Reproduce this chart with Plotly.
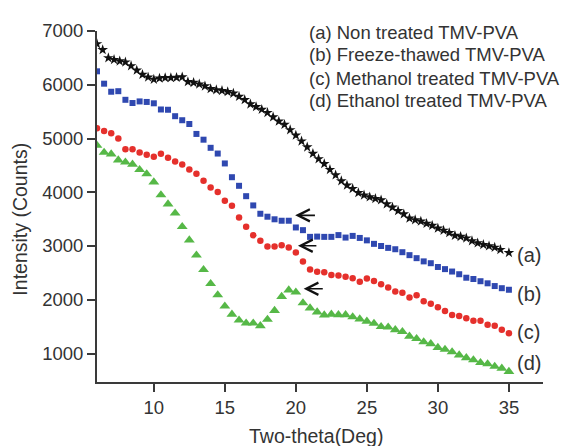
import plotly.graph_objects as go

# ---- data ----
theta_a = [6.0, 6.4, 6.8, 7.2, 7.6, 8.0, 8.4, 8.8, 9.2, 9.6, 10.0, 10.4, 10.8, 11.2, 11.6, 12.0,
           12.4, 12.8, 13.2, 13.6, 14.0, 14.4, 14.8, 15.2, 15.6, 16.0, 16.4, 16.8, 17.2, 17.6,
           18.0, 18.4, 18.8, 19.2, 19.6, 20.0, 20.4, 20.8, 21.2, 21.6, 22.0, 22.4, 22.8, 23.2,
           23.6, 24.0, 24.4, 24.8, 25.2, 25.6, 26.0, 26.4, 26.8, 27.2, 27.6, 28.0, 28.4, 28.8,
           29.2, 29.6, 30.0, 30.4, 30.8, 31.2, 31.6, 32.0, 32.4, 32.8, 33.2, 33.6, 34.0, 34.4, 35.0]
non_treated = [6760, 6650, 6500, 6466, 6440, 6420, 6350, 6270, 6190, 6140, 6100, 6120, 6130, 6130,
               6135, 6144, 6055, 6040, 6010, 5975, 5925, 5905, 5890, 5870, 5840, 5780, 5720, 5640,
               5590, 5540, 5480, 5400, 5320, 5260, 5160, 5060, 4950, 4840, 4720, 4620, 4530, 4420,
               4320, 4210, 4130, 4067, 3990, 3945, 3910, 3880, 3855, 3780, 3720, 3655, 3595, 3515,
               3485, 3460, 3417, 3380, 3330, 3290, 3245, 3195, 3175, 3145, 3095, 3055, 3025, 3000,
               2974, 2933, 2875]

theta = [6.0, 6.5, 7.0, 7.5, 8.0, 8.5, 9.0, 9.5, 10.0, 10.5, 11.0, 11.5, 12.0, 12.5, 13.0, 13.5,
         14.0, 14.5, 15.0, 15.5, 16.0, 16.5, 17.0, 17.5, 18.0, 18.5, 19.0, 19.5, 20.0, 20.5, 21.0,
         21.5, 22.0, 22.5, 23.0, 23.5, 24.0, 24.5, 25.0, 25.5, 26.0, 26.5, 27.0, 27.5, 28.0, 28.5,
         29.0, 29.5, 30.0, 30.5, 31.0, 31.5, 32.0, 32.5, 33.0, 33.5, 34.0, 34.5, 35.0]
freeze_thawed = [6250, 6020, 5870, 5880, 5720, 5660, 5690, 5680, 5655, 5540, 5535, 5415, 5340, 5270,
                 5085, 4978, 4827, 4720, 4536, 4280, 4120, 3927, 3755, 3600, 3545, 3497, 3470, 3470,
                 3345, 3295, 3170, 3175, 3170, 3170, 3203, 3157, 3188, 3150, 3105, 3040, 3000, 2965,
                 2940, 2885, 2830, 2774, 2714, 2680, 2610, 2570, 2525, 2475, 2410, 2386, 2345, 2306,
                 2255, 2215, 2186]
methanol = [5190, 5140, 5100, 5000, 4800, 4800, 4740, 4700, 4660, 4715, 4640, 4570, 4515, 4425,
            4345, 4215, 4090, 4005, 3843, 3750, 3530, 3357, 3199, 3097, 2993, 2993, 3016, 2974,
            2880, 2714, 2565, 2519, 2514, 2460, 2450, 2430, 2400, 2337, 2397, 2350, 2290, 2228,
            2155, 2130, 2040, 2082, 1970, 1924, 1860, 1790, 1718, 1700, 1655, 1608, 1610, 1536,
            1517, 1440, 1378]
ethanol = [4870, 4740, 4710, 4600, 4560, 4520, 4420, 4340, 4190, 3950, 3780, 3610, 3360, 3110,
           2830, 2560, 2300, 2090, 1880, 1730, 1620, 1565, 1565, 1515, 1635, 1800, 2060, 2180,
           2140, 1940, 1845, 1770, 1715, 1730, 1720, 1720, 1680, 1640, 1600, 1560, 1500, 1490,
           1440, 1405, 1320, 1275, 1215, 1180, 1110, 1075, 1030, 970, 920, 880, 830, 805, 760,
           725, 665]

legend_lines = ["(a) Non treated TMV-PVA", "(b) Freeze-thawed TMV-PVA",
                "(c) Methanol treated TMV-PVA", "(d) Ethanol treated TMV-PVA"]
end_labels = ["(a)", "(b)", "(c)", "(d)"]
# arrows: (tip theta, tip intensity, tail theta)
arrow_tips_x = [19.95, 20.15, 20.55]
arrow_tips_y = [3570, 3005, 2205]
arrow_tails_x = [21.45, 21.55, 22.0]

x_ticks = [10, 15, 20, 25, 30, 35]
y_ticks = [1000, 2000, 3000, 4000, 5000, 6000, 7000]

FONT = "Liberation Sans, Arial, sans-serif"
TXT = "#333333"

fig = go.Figure()
fig.add_trace(go.Scatter(x=theta_a, y=non_treated, mode="markers",
                         marker=dict(symbol="star", size=8, color="#111111", line=dict(width=0))))
fig.add_trace(go.Scatter(x=theta, y=freeze_thawed, mode="markers",
                         marker=dict(symbol="square", size=6, color="#2f48b0", line=dict(width=0))))
fig.add_trace(go.Scatter(x=theta, y=methanol, mode="markers",
                         marker=dict(symbol="circle", size=6.5, color="#e5302c", line=dict(width=0))))
fig.add_trace(go.Scatter(x=theta, y=ethanol, mode="markers",
                         marker=dict(symbol="triangle-up", size=9.5, color="#56b847", line=dict(width=0))))

annotations = []
leg_y = [0.997, 0.932, 0.866, 0.802]
for txt, yy in zip(legend_lines, leg_y):
    annotations.append(dict(text=txt, x=0.471, y=yy, xref="paper", yref="paper",
                            xanchor="left", yanchor="middle", showarrow=False,
                            font=dict(family=FONT, size=18.5, color=TXT)))
end_y = [0.363, 0.251, 0.142, 0.053]
for txt, yy in zip(end_labels, end_y):
    annotations.append(dict(text=txt, x=0.938, y=yy, xref="paper", yref="paper",
                            xanchor="left", yanchor="middle", showarrow=False,
                            font=dict(family=FONT, size=20, color=TXT)))
for tx, ty, ax in zip(arrow_tips_x, arrow_tips_y, arrow_tails_x):
    annotations.append(dict(text="", x=tx, y=ty, ax=ax, ay=ty, xref="x", yref="y",
                            axref="x", ayref="y", showarrow=True, arrowhead=5,
                            arrowsize=1.4, arrowwidth=1.7, arrowcolor="#111111"))
annotations.append(dict(text="Two-theta(Deg)", x=0.49, y=-0.153, xref="paper", yref="paper",
                        xanchor="center", yanchor="middle", showarrow=False,
                        font=dict(family=FONT, size=19.5, color=TXT)))
annotations.append(dict(text="Intensity (Counts)", x=-0.173, y=0.465, xref="paper", yref="paper",
                        xanchor="center", yanchor="middle", showarrow=False, textangle=-90,
                        font=dict(family=FONT, size=19.5, color=TXT)))

axis_common = dict(showline=True, linecolor="#3a3a3a", linewidth=2, ticks="outside",
                   ticklen=8, tickwidth=2, tickcolor="#3a3a3a", showgrid=False, zeroline=False,
                   tickfont=dict(family=FONT, size=18.5, color=TXT), mirror=False)

# page body has an 8px default margin; size the figure so the plot area lands where the reference has it
fig.update_layout(
    width=561, height=438,
    margin=dict(l=89, r=26, t=16, b=64),
    paper_bgcolor="white", plot_bgcolor="white",
    showlegend=False,
    annotations=annotations,
    xaxis=dict(range=[6, 37.4], tickvals=x_ticks, **axis_common),
    yaxis=dict(range=[470, 7000], tickvals=y_ticks, **axis_common),
)
fig.write_html("out.html")
